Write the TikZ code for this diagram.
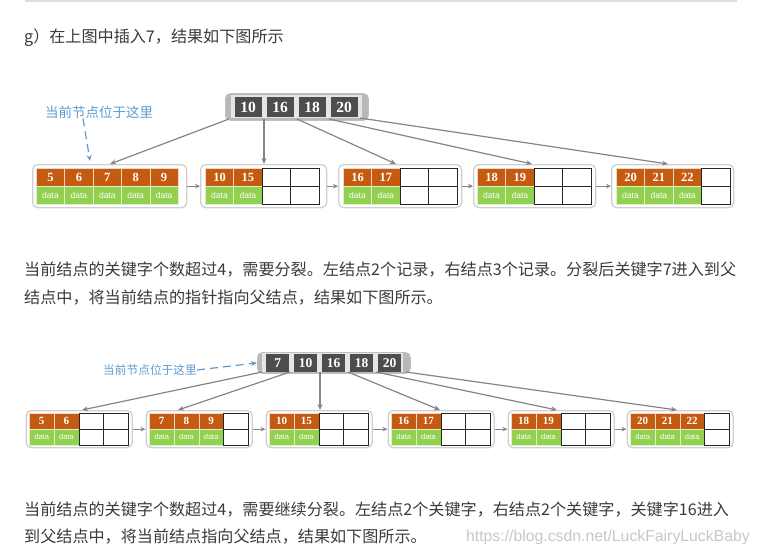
\documentclass[tikz,border=0pt]{standalone}
\usepackage{fontspec}
\setmainfont{Noto Sans CJK SC}
\newfontfamily\numf{Liberation Serif}
\newfontfamily\dataf{Liberation Sans}
\usetikzlibrary{arrows.meta,calc}
\definecolor{org}{HTML}{C55A11}
\definecolor{grn}{HTML}{92D050}
\definecolor{keyc}{HTML}{4D4D4D}
\definecolor{txt}{HTML}{3A3A3A}
\definecolor{blu}{HTML}{5B9BD5}
\definecolor{arr}{HTML}{858585}
\definecolor{boxc}{HTML}{CFCFCF}
\tikzset{
  kc/.style={draw=white!75!org, line width=0.6pt, fill=org, minimum width=\cw pt, minimum height=\ch pt, inner sep=0pt, anchor=north west, text=white, font=\numf\bfseries\fontsize{\kf}{\kf}\selectfont},
  dc/.style={draw=white!70!grn, line width=0.6pt, fill=grn, minimum width=\cw pt, minimum height=\ch pt, inner sep=0pt, anchor=north west, text=white, font=\dataf\fontsize{\df}{\df}\selectfont},
  ec/.style={draw=black!85, line width=1pt, fill=white, minimum width=\cw pt, minimum height=\ch pt, inner sep=0pt, anchor=north west},
  leafbox/.style={draw=boxc, line width=1.3pt, fill=white, rounded corners=5pt, inner sep=0pt, anchor=north west},
  rootbox/.style={draw=black!25, line width=0.8pt, fill=black!28, rounded corners=5pt, inner sep=0pt, anchor=north west},
  rootin/.style={fill=black!10, inner sep=0pt, anchor=north west},
  rk/.style={fill=keyc, inner sep=0pt, anchor=north west, text=white, font=\numf\bfseries\fontsize{\rf}{\rf}\selectfont},
  tree/.style={draw=arr, line width=1.2pt, -{Stealth[length=6pt,width=5pt]}},
  link/.style={draw=arr, line width=1.1pt, -{Stealth[length=5pt,width=4.5pt]}},
  note/.style={text=blu, inner sep=0pt},
  noteline/.style={draw=blu, line width=1.2pt, dash pattern=on 8pt off 5pt, -{Stealth[length=6pt,width=5pt]}},
  para/.style={text=txt, anchor=west, inner sep=0pt, font=\fontsize{16.1}{20}\selectfont},
}
\begin{document}
\begin{tikzpicture}[x=1pt,y=-1pt]
\useasboundingbox (0,0) rectangle (758,555);
% top rule
\draw[draw=black!13, line width=1.5pt] (25,1) -- (737,1);
% texts
\node[para] (title) at (24,38) {g）在上图中插入7，结果如下图所示};
\node[para] (p1a) at (24,270) {当前结点的关键字个数超过4，需要分裂。左结点2个记录，右结点3个记录。分裂后关键字7进入到父};
\node[para] (p1b) at (24,298) {结点中，将当前结点的指针指向父结点，结果如下图所示。};
\node[para] (p2a) at (24,510) {当前结点的关键字个数超过4，需要继续分裂。左结点2个关键字，右结点2个关键字，关键字16进入};
\node[para] (p2b) at (24,537) {到父结点中，将当前结点指向父结点，结果如下图所示。};
\node[text=black!22, anchor=east, inner sep=0pt, font=\dataf\fontsize{15.8}{18}\selectfont] (wm) at (750,537) {https://blog.csdn.net/LuckFairyLuckBaby};

% ================= top diagram =================
\def\cw{28.4}\def\ch{18}\def\kf{12.5}\def\df{8.5}\def\rf{15.5}
% root
\node[rootbox, minimum width=143pt, minimum height=27pt] (R1) at (225,93) {};
\node[rootin, minimum width=131pt, minimum height=23pt] (R1in) at (231,95) {};
\foreach \k [count=\i from 0] in {10,16,18,20}
  \node[rk, minimum width=27pt, minimum height=20pt] (R1k\i) at (234.5+\i*32,97) {\k};
% leaves
\node[leafbox, minimum width=154pt, minimum height=43pt] (A1) at (32,164) {};
\node[leafbox, minimum width=126pt, minimum height=43pt] (A2) at (200,164) {};
\node[leafbox, minimum width=123pt, minimum height=43pt] (A3) at (338,164) {};
\node[leafbox, minimum width=122pt, minimum height=43pt] (A4) at (473,164) {};
\node[leafbox, minimum width=122pt, minimum height=43pt] (A5) at (611,164) {};
\foreach \k [count=\i from 0] in {5,6,7,8,9} {
  \node[kc] (A1k\i) at (36+\i*\cw,168) {\k};
  \node[dc] (A1d\i) at (36+\i*\cw,186) {data};}
\foreach \k [count=\i from 0] in {10,15} {
  \node[kc] (A2k\i) at (205+\i*\cw,168) {\k};
  \node[dc] (A2d\i) at (205+\i*\cw,186) {data};}
\foreach \i in {2,3} {
  \node[ec] (A2e\i) at (205+\i*\cw,168) {};
  \node[ec] (A2f\i) at (205+\i*\cw,186) {};}
\foreach \k [count=\i from 0] in {16,17} {
  \node[kc] (A3k\i) at (343+\i*\cw,168) {\k};
  \node[dc] (A3d\i) at (343+\i*\cw,186) {data};}
\foreach \i in {2,3} {
  \node[ec] (A3e\i) at (343+\i*\cw,168) {};
  \node[ec] (A3f\i) at (343+\i*\cw,186) {};}
\foreach \k [count=\i from 0] in {18,19} {
  \node[kc] (A4k\i) at (477+\i*\cw,168) {\k};
  \node[dc] (A4d\i) at (477+\i*\cw,186) {data};}
\foreach \i in {2,3} {
  \node[ec] (A4e\i) at (477+\i*\cw,168) {};
  \node[ec] (A4f\i) at (477+\i*\cw,186) {};}
\foreach \k [count=\i from 0] in {20,21,22} {
  \node[kc] (A5k\i) at (616+\i*\cw,168) {\k};
  \node[dc] (A5d\i) at (616+\i*\cw,186) {data};}
\node[ec] (A5e3) at (616+3*\cw,168) {};
\node[ec] (A5f3) at (616+3*\cw,186) {};
% leaf links
\foreach \a/\b in {A1/A2,A2/A3,A3/A4,A4/A5}
  \draw[link] (\a.east) -- (\b.west);
% tree pointers
\coordinate (s10) at (229,119); \coordinate (e10) at (110,164);
\coordinate (s11) at (264,119); \coordinate (e11) at (264,164);
\coordinate (s12) at (297,119); \coordinate (e12) at (396,164);
\coordinate (s13) at (329,119); \coordinate (e13) at (532,164);
\coordinate (s14) at (360,118); \coordinate (e14) at (668,164);
\foreach \i in {0,...,4}
  \draw[tree] (s1\i) -- (e1\i);
% note
\node[note, font=\fontsize{13.5}{15}\selectfont] (n1) at (99,112) {当前节点位于这里};
\coordinate (n1e) at (90,161);
\draw[noteline] (n1.south -| 83,0) -- (n1e);

% ================= bottom diagram =================
\def\cw{24.75}\def\ch{16}\def\kf{11}\def\df{7.5}\def\rf{13.5}
\node[rootbox, minimum width=153pt, minimum height=21pt] (R2) at (257,352) {};
\node[rootin, minimum width=141pt, minimum height=19pt] (R2in) at (262,353) {};
\foreach \k [count=\i from 0] in {7,10,16,18,20}
  \node[rk, minimum width=23pt, minimum height=18pt] (R2k\i) at (266+\i*28,354) {\k};
\foreach \n/\x in {B1/29,B2/149,B3/269,B4/391,B5/511,B6/630}
  \node[leafbox, minimum width=106pt, minimum height=37pt] (\n) at (\x-3.5,410) {};
\foreach \k [count=\i from 0] in {5,6} {
  \node[kc] (B1k\i) at (29+\i*\cw,413) {\k};
  \node[dc] (B1d\i) at (29+\i*\cw,429) {data};}
\foreach \i in {2,3} {
  \node[ec] (B1e\i) at (29+\i*\cw,413) {};
  \node[ec] (B1f\i) at (29+\i*\cw,429) {};}
\foreach \k [count=\i from 0] in {7,8,9} {
  \node[kc] (B2k\i) at (149+\i*\cw,413) {\k};
  \node[dc] (B2d\i) at (149+\i*\cw,429) {data};}
\node[ec] (B2e3) at (149+3*\cw,413) {};
\node[ec] (B2f3) at (149+3*\cw,429) {};
\foreach \k [count=\i from 0] in {10,15} {
  \node[kc] (B3k\i) at (269+\i*\cw,413) {\k};
  \node[dc] (B3d\i) at (269+\i*\cw,429) {data};}
\foreach \i in {2,3} {
  \node[ec] (B3e\i) at (269+\i*\cw,413) {};
  \node[ec] (B3f\i) at (269+\i*\cw,429) {};}
\foreach \k [count=\i from 0] in {16,17} {
  \node[kc] (B4k\i) at (391+\i*\cw,413) {\k};
  \node[dc] (B4d\i) at (391+\i*\cw,429) {data};}
\foreach \i in {2,3} {
  \node[ec] (B4e\i) at (391+\i*\cw,413) {};
  \node[ec] (B4f\i) at (391+\i*\cw,429) {};}
\foreach \k [count=\i from 0] in {18,19} {
  \node[kc] (B5k\i) at (511+\i*\cw,413) {\k};
  \node[dc] (B5d\i) at (511+\i*\cw,429) {data};}
\foreach \i in {2,3} {
  \node[ec] (B5e\i) at (511+\i*\cw,413) {};
  \node[ec] (B5f\i) at (511+\i*\cw,429) {};}
\foreach \k [count=\i from 0] in {20,21,22} {
  \node[kc] (B6k\i) at (630+\i*\cw,413) {\k};
  \node[dc] (B6d\i) at (630+\i*\cw,429) {data};}
\node[ec] (B6e3) at (630+3*\cw,413) {};
\node[ec] (B6f3) at (630+3*\cw,429) {};
\foreach \a/\b in {B1/B2,B2/B3,B3/B4,B4/B5,B5/B6}
  \draw[link] (\a.east) -- (\b.west);
\coordinate (s20) at (262,372); \coordinate (e20) at (82,410);
\coordinate (s21) at (290,372); \coordinate (e21) at (178,410);
\coordinate (s22) at (320,372); \coordinate (e22) at (320,410);
\coordinate (s23) at (348,372); \coordinate (e23) at (440,410);
\coordinate (s24) at (376,372); \coordinate (e24) at (557,410);
\coordinate (s25) at (406,372); \coordinate (e25) at (677,410);
\foreach \i in {0,...,5}
  \draw[tree] (s2\i) -- (e2\i);
\node[note, font=\fontsize{11.7}{13}\selectfont] (n2) at (150,370) {当前节点位于这里};
\draw[noteline] (n2.east) -- (R2.west);
\end{tikzpicture}
\end{document}
